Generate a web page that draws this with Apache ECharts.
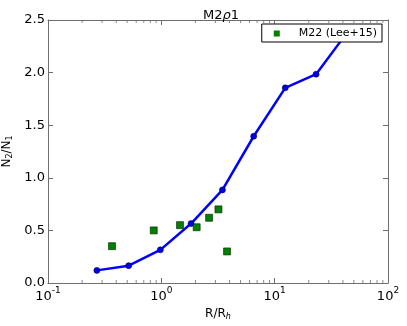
<!DOCTYPE html>
<html>
<head>
<meta charset="utf-8">
<script src="https://cdn.jsdelivr.net/npm/echarts@6/dist/echarts.min.js"></script>
<style>
  html, body { margin: 0; padding: 0; background: #fff; }
  #chart { width: 407px; height: 326px; }
</style>
</head>
<body>
<div id="chart"></div>
<script>
// model curve (blue line with dots)
var modelR = [0.27, 0.515, 0.98, 1.83, 3.46, 6.53, 12.4, 23.2, 43.5];
var modelRatio = [0.12, 0.165, 0.315, 0.565, 0.885, 1.395, 1.855, 1.985, 2.38];

// M22 observations (green squares)
var obsR = [0.367, 0.857, 1.46, 2.05, 2.64, 3.19, 3.80];
var obsRatio = [0.35, 0.50, 0.55, 0.53, 0.62, 0.70, 0.30];

// minor tick positions of the log axis
var minorR = [0.2, 0.3, 0.4, 0.5, 0.6, 0.7, 0.8, 0.9,
              2, 3, 4, 5, 6, 7, 8, 9,
              20, 30, 40, 50, 60, 70, 80, 90];

var yTicks = [0, 0.5, 1.0, 1.5, 2.0, 2.5];

var FONT = 'DejaVu Sans';
var AXIS_COLOR = '#6e6e6e';

function pairs(xs, ys) {
  return xs.map(function (x, i) { return [x, ys[i]]; });
}

var chart = echarts.init(document.getElementById('chart'));

var option = {
  animation: false,
  backgroundColor: '#fff',
  textStyle: { fontFamily: FONT },
  title: {
    text: 'M2{i|ρ}1',
    left: 216, top: 4, textAlign: 'center',
    textStyle: {
      fontFamily: FONT, fontSize: 13, fontWeight: 'normal', color: '#000',
      rich: { i: { fontFamily: FONT, fontSize: 13, fontStyle: 'italic', color: '#000' } }
    }
  },
  legend: {
    data: ['M22 (Lee+15)'],
    right: 25, top: 24,
    orient: 'vertical',
    backgroundColor: '#fff',
    borderColor: '#000', borderWidth: 1, borderRadius: 0,
    padding: [4, 5, 3, 12],
    itemWidth: 6, itemHeight: 6,
    itemStyle: { borderWidth: 0 },
    formatter: function (n) { return '    ' + n; },
    textStyle: { fontFamily: FONT, fontSize: 11, color: '#000' }
  },
  grid: { left: 48, top: 20, right: 19, bottom: 43, containLabel: false, outerBoundsMode: 'none' },
  xAxis: [{
    type: 'log', logBase: 10, min: 0.1, max: 100,
    name: 'R/R{sub|h}', nameLocation: 'middle', nameGap: 21,
    nameTextStyle: {
      fontFamily: FONT, fontSize: 12, color: '#000',
      rich: { sub: { fontFamily: FONT, fontSize: 8, fontStyle: 'italic', color: '#000', padding: [6, 0, 0, 0] } }
    },
    axisLine: { onZero: false, lineStyle: { color: AXIS_COLOR, width: 1 } },
    axisTick: { inside: true, length: 5, lineStyle: { color: AXIS_COLOR } },
    splitLine: { show: false },
    axisLabel: {
      margin: 3, color: '#000', fontFamily: FONT, fontSize: 13,
      formatter: function (v) {
        var e = Math.round(Math.log10(v));
        return '10{sup|' + e + '}';
      },
      rich: { sup: { fontFamily: FONT, fontSize: 9, color: '#000', verticalAlign: 'top', padding: [0, 0, 12, 0] } }
    }
  }, {
    type: 'log', logBase: 10, min: 0.1, max: 100, position: 'top',
    axisLine: { onZero: false, lineStyle: { color: AXIS_COLOR, width: 1 } },
    axisTick: { inside: true, length: 5, lineStyle: { color: AXIS_COLOR } },
    axisLabel: { show: false },
    splitLine: { show: false }
  }],
  yAxis: [{
    type: 'value', min: 0, max: 2.5, interval: 0.5,
    name: 'N{sub|2}/N{sub|1}', nameLocation: 'middle', nameGap: 21, nameRotate: 90,
    nameTextStyle: {
      fontFamily: FONT, fontSize: 12, color: '#000',
      rich: { sub: { fontFamily: FONT, fontSize: 8, color: '#000', padding: [6, 0, 0, 0] } }
    },
    axisLine: { show: true, onZero: false, lineStyle: { color: AXIS_COLOR, width: 1 } },
    axisTick: { show: true, inside: true, length: 5, lineStyle: { color: AXIS_COLOR } },
    splitLine: { show: false },
    axisLabel: {
      margin: 3, color: '#000', fontFamily: FONT, fontSize: 13,
      formatter: function (v) { return v.toFixed(1); }
    }
  }, {
    type: 'value', min: 0, max: 2.5, interval: 0.5, position: 'right',
    axisLine: { show: true, onZero: false, lineStyle: { color: AXIS_COLOR, width: 1 } },
    axisTick: { show: true, inside: true, length: 5, lineStyle: { color: AXIS_COLOR } },
    axisLabel: { show: false },
    splitLine: { show: false }
  }],
  series: [{
    name: 'model',
    type: 'line',
    data: pairs(modelR, modelRatio),
    symbol: 'circle', symbolSize: 6,
    lineStyle: { color: '#0000ff', width: 2.5 },
    itemStyle: { color: '#0000ee', borderColor: '#000040', borderWidth: 0.6 },
    z: 3
  }, {
    name: 'M22 (Lee+15)',
    type: 'scatter',
    data: pairs(obsR, obsRatio),
    symbol: 'rect', symbolSize: 7,
    itemStyle: { color: '#007f00', borderColor: '#002000', borderWidth: 0.6, opacity: 1 },
    z: 4
  }, {
    name: 'minorBottom',
    type: 'scatter', silent: true, clip: false,
    data: minorR.map(function (r) { return [r, yTicks[0]]; }),
    symbol: 'rect', symbolSize: [1, 3], symbolOffset: [0, -1.5],
    itemStyle: { color: AXIS_COLOR },
    z: 1
  }, {
    name: 'minorTop',
    type: 'scatter', silent: true, clip: false,
    data: minorR.map(function (r) { return [r, yTicks[yTicks.length - 1]]; }),
    symbol: 'rect', symbolSize: [1, 3], symbolOffset: [0, 1.5],
    itemStyle: { color: AXIS_COLOR },
    z: 1
  }]
};

chart.setOption(option);
</script>
</body>
</html>
